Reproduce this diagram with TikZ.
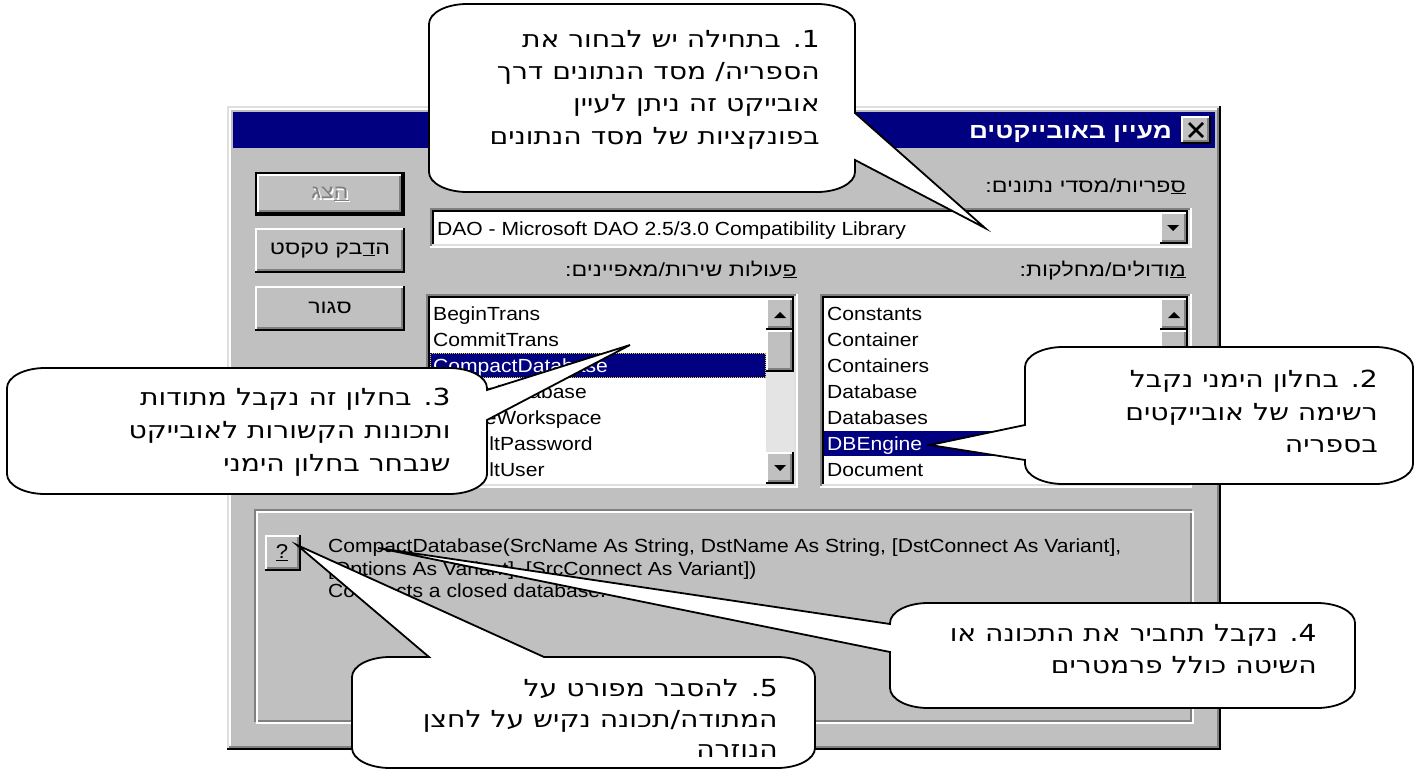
\documentclass[tikz,border=0pt]{standalone}
\usepackage{fontspec}
\setmainfont[FakeStretch=1.11]{Liberation Sans}
\TeXXeTstate=1
\newfontfamily\heb[Script=Hebrew,FakeStretch=1.2]{DejaVu Sans}
\newfontfamily\hebui[Script=Hebrew,FakeStretch=1.22]{Liberation Sans}
\definecolor{face}{HTML}{C0C0C0}
\definecolor{shadowc}{HTML}{808080}
\definecolor{lightc}{HTML}{DFDFDF}
\definecolor{navyc}{HTML}{000080}
\definecolor{trackc}{HTML}{E4E4E4}
\newcommand\raisedbox[4]{%
  \fill[black] (#1,#2) rectangle (#3,#4);
  \fill[white] (#1,#2) rectangle ({#3-2},{#4-2});
  \fill[shadowc] ({#1+2},{#2+2}) rectangle ({#3-2},{#4-2});
  \fill[face] ({#1+2},{#2+2}) rectangle ({#3-4},{#4-4});}
\newcommand\sunkenbox[4]{%
  \fill[white] (#1,#2) rectangle (#3,#4);
  \fill[shadowc] (#1,#2) rectangle ({#3-2},{#4-2});
  \fill[lightc] ({#1+2},{#2+2}) rectangle ({#3-2},{#4-2});
  \fill[black] ({#1+2},{#2+2}) rectangle ({#3-4},{#4-4});
  \fill[white] ({#1+4},{#2+4}) rectangle ({#3-4},{#4-4});}
\newcommand\callout[8]{%
  \filldraw[calloutshape] ({#1+38},#2) #5 -- ({#3-38},#2)
   .. controls ({#3-17},#2) and (#3,{#2+9}) .. (#3,{#2+20}) #6 -- (#3,{#4-20})
   .. controls (#3,{#4-9}) and ({#3-17},#4) .. ({#3-38},#4) #7 -- ({#1+38},#4)
   .. controls ({#1+17},#4) and (#1,{#4-9}) .. (#1,{#4-20}) #8 -- (#1,{#2+20})
   .. controls (#1,{#2+9}) and ({#1+17},#2) .. ({#1+38},#2) -- cycle;}
\begin{document}
\begin{tikzpicture}[x=1pt,y=-1pt,
  calloutshape/.style={fill=white,draw=black,line width=1.8pt},
  ctext/.style={anchor=base east,inner sep=0pt,font=\heb\fontsize{23.5}{26}\selectfont},
  uitext/.style={inner sep=0pt,font=\hebui\fontsize{19}{22}\selectfont},
  ltext/.style={anchor=base west,inner sep=0pt,font=\fontsize{19}{22}\selectfont},
  arrowtri/.style={fill=black}]
\useasboundingbox (0,0) rectangle (1419,771);
\fill[white] (0,0) rectangle (1419,771);
% window
\fill[black] (227,106) rectangle (1221,750);
\fill[lightc] (227,106) rectangle (1219,748);
\fill[shadowc] (229,108) rectangle (1219,748);
\fill[white] (229,108) rectangle (1217,746);
\fill[face] (231,110) rectangle (1217,746);
\fill[navyc] (233,112) rectangle (1215,148);
\node[anchor=base east,inner sep=0pt,text=white,font=\hebui\bfseries\fontsize{21.5}{25}\selectfont] (title) at (1172,138) {\beginR מעיין באובייקטים\endR};
\raisedbox{1181}{116}{1211}{144}
\draw[line width=2.6pt] (1189,123) -- (1203,137) (1203,123) -- (1189,137);
% buttons
\fill[black] (255,172) rectangle (405,216);
\raisedbox{257}{174}{403}{214}
\node[uitext,text=white] at (331.5,195.5) {\beginR \underline{ה}צג\endR};
\node[uitext,text=shadowc] (bshow) at (330,194) {\beginR \underline{ה}צג\endR};
\raisedbox{255}{228}{405}{273}
\node[uitext] (bpaste) at (330,250) {\beginR ה\underline{ד}בק טקסט\endR};
\raisedbox{255}{286}{405}{331}
\node[uitext] (bclose) at (330,308) {\beginR סגור\endR};
% labels
\node[uitext,anchor=base east] (lib) at (1186,192) {\beginR \underline{ס}פריות/מסדי נתונים:\endR};
\node[uitext,anchor=base east] (mods) at (1186,276) {\beginR \underline{מ}ודולים/מחלקות:\endR};
\node[uitext,anchor=base east] (memb) at (797,276) {\beginR \underline{פ}עולות שירות/מאפיינים:\endR};
% combo
\sunkenbox{430}{208}{1192}{248}
\node[ltext] (combo) at (437,235) {DAO - Microsoft DAO 2.5/3.0 Compatibility Library};
\raisedbox{1160}{212}{1188}{244}
\fill (1167,225) -- (1179,225) -- (1173,231) -- cycle;
% left list
\sunkenbox{426}{294}{798}{488}
\fill[trackc] (766,298) rectangle (794,484);
\raisedbox{766}{298}{794}{330}
\fill (774,318) -- (786,318) -- (780,312) -- cycle;
\raisedbox{766}{330}{794}{372}
\raisedbox{766}{452}{794}{484}
\fill (774,465) -- (786,465) -- (780,471) -- cycle;
\fill[navyc] (430,353) rectangle (766,378);
\draw[yellow!85!black,densely dotted,line width=1pt] (430.5,353.5) rectangle (765.5,377.5);
\node[ltext] (m1) at (433,320) {BeginTrans};
\node[ltext] (m2) at (433,346) {CommitTrans};
\node[ltext,text=white] (m3) at (433,372) {CompactDatabase};
\node[ltext] (m4) at (433,398) {CreateDatabase};
\node[ltext] (m5) at (433,424) {CreateWorkspace};
\node[ltext] (m6) at (433,450) {DefaultPassword};
\node[ltext] (m7) at (433,476) {DefaultUser};
% right list
\sunkenbox{820}{294}{1192}{488}
\fill[trackc] (1160,298) rectangle (1188,484);
\raisedbox{1160}{298}{1188}{330}
\fill (1168,318) -- (1180,318) -- (1174,312) -- cycle;
\raisedbox{1160}{330}{1188}{372}
\raisedbox{1160}{452}{1188}{484}
\fill (1168,465) -- (1180,465) -- (1174,471) -- cycle;
\fill[navyc] (824,431) rectangle (1160,456);
\node[ltext] (c1) at (827,320) {Constants};
\node[ltext] (c2) at (827,346) {Container};
\node[ltext] (c3) at (827,372) {Containers};
\node[ltext] (c4) at (827,398) {Database};
\node[ltext] (c5) at (827,424) {Databases};
\node[ltext,text=white] (c6) at (827,450) {DBEngine};
\node[ltext] (c7) at (827,476) {Document};
% group box
\draw[shadowc,line width=2pt] (255,510) rectangle (1191,721);
\draw[white,line width=2pt] (257,512) rectangle (1193,723);
\raisedbox{265}{535}{301}{571}
\node[ltext,anchor=center,font=\fontsize{20}{22}\selectfont] (help) at (282,553) {\underline{?}};
\node[ltext] (d1) at (328,552) {CompactDatabase(SrcName As String, DstName As String, [DstConnect As Variant],};
\node[ltext] (d2) at (328,575) {[Options As Variant], [SrcConnect As Variant])};
\node[ltext] (d3) at (328,597) {Compacts a closed database.};
% callouts
\callout{429}{4}{855}{192}{}{-- (855,113) -- (985,228) -- (855,160)}{}{}
\node[ctext] (t1a) at (820,47) {\beginR 1. בתחילה יש לבחור את\endR};
\node[ctext] (t1b) at (820,79) {\beginR הספריה/ מסד הנתונים דרך\endR};
\node[ctext] (t1c) at (820,111) {\beginR אובייקט זה ניתן לעיין\endR};
\node[ctext] (t1d) at (820,144) {\beginR בפונקציות של מסד הנתונים\endR};
\callout{1025}{347}{1413}{484}{}{}{}{-- (1025,460) -- (930,445) -- (1025,425)}
\node[ctext] (t2a) at (1378,387) {\beginR 2. בחלון הימני נקבל\endR};
\node[ctext] (t2b) at (1378,420) {\beginR רשימה של אובייקטים\endR};
\node[ctext] (t2c) at (1378,452) {\beginR בספריה\endR};
\callout{7}{368}{487}{494}{}{-- (487,390) -- (630,345) -- (487,420)}{}{}
\node[ctext] (t3a) at (451,405) {\beginR 3. בחלון זה נקבל מתודות\endR};
\node[ctext] (t3b) at (451,438) {\beginR ותכונות הקשורות לאובייקט\endR};
\node[ctext] (t3c) at (451,471) {\beginR שנבחר בחלון הימני\endR};
\callout{890}{603}{1355}{708}{}{}{}{-- (890,652) -- (378,548) -- (890,624)}
\node[ctext] (t4a) at (1317,641) {\beginR 4. נקבל תחביר את התכונה או\endR};
\node[ctext] (t4b) at (1317,673) {\beginR השיטה כולל פרמטרים\endR};
\callout{352}{657}{815}{768}{-- (429,657) -- (297,545) -- (544,657)}{}{}{}
\node[ctext] (t5a) at (778,696) {\beginR 5. להסבר מפורט על\endR};
\node[ctext] (t5b) at (778,727) {\beginR המתודה/תכונה נקיש על לחצן\endR};
\node[ctext] (t5c) at (778,757) {\beginR הנוזרה\endR};
\end{tikzpicture}
\end{document}
